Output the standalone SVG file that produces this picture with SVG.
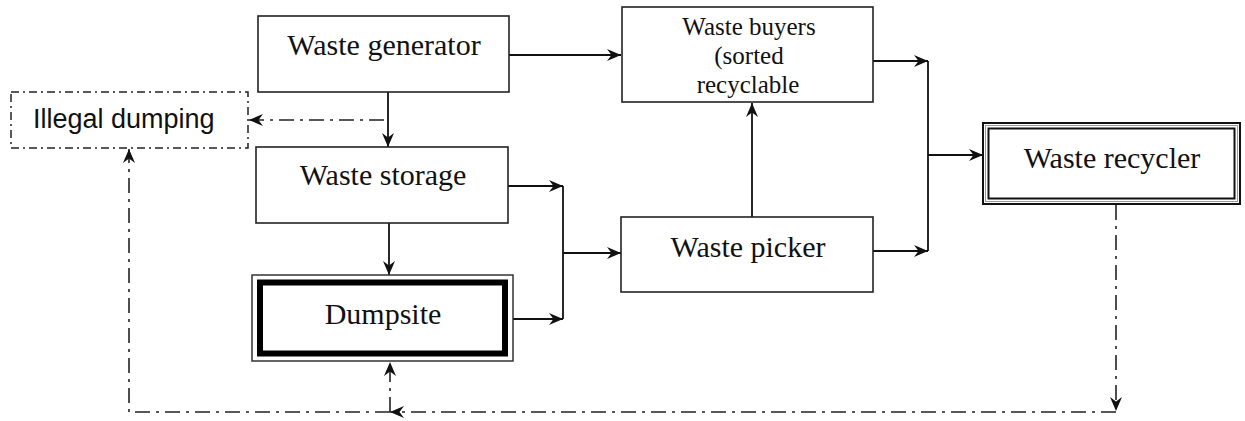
<svg xmlns="http://www.w3.org/2000/svg" width="1245" height="421" viewBox="0 0 1245 421">
<style>
.box{fill:#fff;stroke:#222;stroke-width:1.6}
.t{font-family:"Liberation Serif","Times New Roman",serif;font-size:30px;fill:#111;text-anchor:middle}
.b{font-size:25px}
.s{font-family:"Liberation Sans",Arial,sans-serif;font-size:27px;fill:#111}
.ln{fill:none;stroke:#111;stroke-width:1.8}
.dd{fill:none;stroke:#222;stroke-width:1.6;stroke-dasharray:15 6 3 6}
</style>
<defs>
<marker id="ah" viewBox="0 0 14 12" refX="14" refY="6" markerWidth="14" markerHeight="12" markerUnits="userSpaceOnUse" orient="auto">
<path d="M0,0 L14,6 L0,12 L4.5,6 z" fill="#111"/>
</marker>
</defs>
<rect width="1245" height="421" fill="#fff"/>
<g id="connectors">
<path class="ln" d="M509,55 H621" marker-end="url(#ah)"/>
<path class="ln" d="M388,92 V147" marker-end="url(#ah)"/>
<path class="dd" d="M384,120 H249" marker-end="url(#ah)"/>
<path class="ln" d="M389,223 V275" marker-end="url(#ah)"/>
<path class="ln" d="M508,186 H563"  marker-end="url(#ah)"/>
<path class="ln" d="M513,319 H563" marker-end="url(#ah)"/>
<path class="ln" d="M563,186 V319"/>
<path class="ln" d="M563,253 H621" marker-end="url(#ah)"/>
<path class="ln" d="M752,217 V103" marker-end="url(#ah)"/>
<path class="ln" d="M873,61 H928" marker-end="url(#ah)"/>
<path class="ln" d="M873,251 H928" marker-end="url(#ah)"/>
<path class="ln" d="M928,61 V251"/>
<path class="ln" d="M928,155 H983" marker-end="url(#ah)"/>
<path class="dd" d="M1116,205 V411" marker-end="url(#ah)"/>
<path class="dd" d="M1116,412 H390" marker-end="url(#ah)"/>
<path class="dd" d="M390,412 V362" marker-end="url(#ah)"/>
<path class="dd" d="M390,412 H129 V149" marker-end="url(#ah)"/>
</g>
<g id="waste-generator">
<rect class="box" x="258" y="16" width="251" height="76"/>
<text class="t" x="384" y="55">Waste generator</text>
</g>
<g id="illegal-dumping">
<rect x="11" y="92" width="237" height="56" fill="#fff" stroke="#222" stroke-width="1.5" stroke-dasharray="8 4 2 4"/>
<text class="s" x="33" y="128">Illegal dumping</text>
</g>
<g id="waste-storage">
<rect class="box" x="256" y="147" width="252" height="76"/>
<text class="t" x="383" y="185">Waste storage</text>
</g>
<g id="dumpsite">
<rect x="252" y="275" width="261" height="86" fill="#fff" stroke="#333" stroke-width="1.5"/>
<rect x="260" y="282.5" width="245" height="71" fill="#fff" stroke="#000" stroke-width="6"/>
<text class="t" x="383" y="324">Dumpsite</text>
</g>
<g id="waste-buyers">
<rect class="box" x="622" y="7" width="251" height="95"/>
<text class="t b" x="749" y="35">Waste buyers</text>
<text class="t b" x="749" y="64">(sorted</text>
<text class="t b" x="748" y="93">recyclable</text>
</g>
<g id="waste-picker">
<rect class="box" x="621" y="217" width="252" height="75"/>
<text class="t" x="748" y="257">Waste picker</text>
</g>
<g id="waste-recycler">
<rect x="983" y="123" width="257" height="81" fill="#fff" stroke="#111" stroke-width="2"/>
<rect x="985.5" y="125.5" width="252" height="76" fill="none" stroke="#999" stroke-width="1"/>
<rect x="988.5" y="128.5" width="246" height="70" fill="none" stroke="#111" stroke-width="2"/>
<text class="t" x="1112" y="168">Waste recycler</text>
</g>
</svg>
